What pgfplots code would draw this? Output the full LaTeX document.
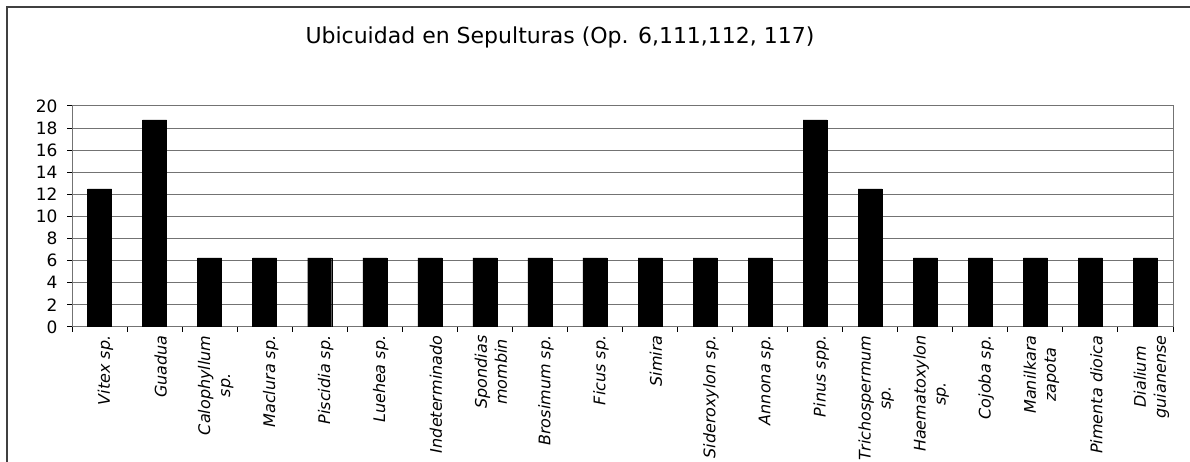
\documentclass[border=0pt]{standalone}
\usepackage{fontspec}
\setmainfont{DejaVu Sans}
\usepackage{pgfplots}
\pgfplotsset{compat=1.18}
\begin{document}
\begin{tikzpicture}[x=1pt,y=1pt]
\useasboundingbox (0,0) rectangle (1190,462);
\draw[line width=1.5pt, black!75] (7,-5) -- (7,455) -- (1195,455);
\node[anchor=base, font=\fontsize{22}{26}\selectfont] at (560,418) {Ubicuidad en Sepulturas (Op. 6,111,112, 117)};
\begin{axis}[
  at={(72pt,135pt)}, anchor=south west,
  scale only axis, width=1101pt, height=221pt,
  xmin=-0.5, xmax=19.5, ymin=0, ymax=20,
  ytick={0,2,...,20},
  xtick={0,...,19},
  minor xtick={-0.5,0.5,...,19.5},
  major x tick style={draw=none},
  xticklabels={{Vitex sp.},{Guadua},{Calophyllum\\sp.},{Maclura sp.},{Piscidia sp.},{Luehea sp.},{Indeterminado},{Spondias\\mombin},{Brosimum sp.},{Ficus sp.},{Simira},{Sideroxylon sp.},{Annona sp.},{Pinus spp.},{Trichospermum\\sp.},{Haematoxylon\\sp.},{Cojoba sp.},{Manilkara\\zapota},{Pimenta dioica},{Dialium\\guianense}},
  xticklabel style={rotate=90, anchor=east, align=center, font=\itshape\fontsize{16}{20}\selectfont, yshift=-6pt},
  yticklabel style={font=\fontsize{17}{20}\selectfont, xshift=-6pt},
  /pgf/number format/assume math mode=true,
  xtick pos=bottom, ytick pos=left, tick align=outside,
  major tick length=5pt, minor tick length=5pt,
  tick style={black, line width=1pt},
  ymajorgrids, major grid style={black!55, line width=1pt},
  axis line style={black!55, line width=1pt},
  ybar, bar width=24pt,
]
\addplot[fill=black, draw=black] coordinates {
(0,12.5) (1,18.75) (2,6.25) (3,6.25) (4,6.25) (5,6.25) (6,6.25) (7,6.25) (8,6.25) (9,6.25)
(10,6.25) (11,6.25) (12,6.25) (13,18.75) (14,12.5) (15,6.25) (16,6.25) (17,6.25) (18,6.25) (19,6.25)};
\end{axis}
\end{tikzpicture}
\end{document}
